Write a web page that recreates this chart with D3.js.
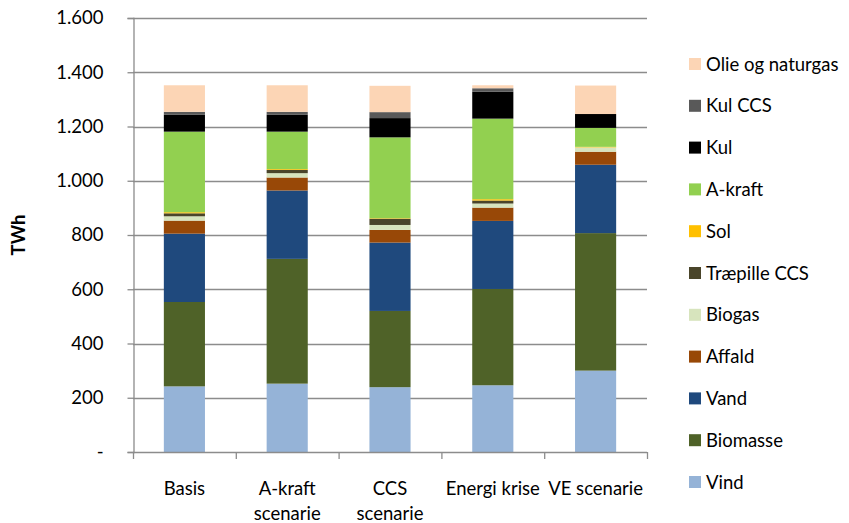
<!DOCTYPE html>
<html>
<head>
<meta charset="utf-8">
<script src="https://cdn.jsdelivr.net/npm/d3@7"></script>
<style>
  html, body { margin: 0; padding: 0; background: #fff; }
  svg { display: block; font-family: Lato, "Open Sans", sans-serif; }
</style>
</head>
<body>
<svg id="chart" width="849" height="523"></svg>
<script>
// Scenarios on the x axis
const scenarios = [["Basis"], ["A-kraft", "scenarie"], ["CCS", "scenarie"], ["Energi krise"], ["VE scenarie"]];

// Energy sources, stacked bottom to top
const sources = ["Vind", "Biomasse", "Vand", "Affald", "Biogas", "Træpille CCS", "Sol", "A-kraft", "Kul", "Kul CCS", "Olie og naturgas"];
const colors  = ["#95B3D7", "#4F6228", "#1F497D", "#984807", "#D7E4BD", "#4A452A", "#FFC000", "#92D050", "#000000", "#595959", "#FCD5B5"];

// TWh per source, one value per scenario
const vind       = [242, 252, 239, 246, 300];
const biomasse   = [311, 460, 281, 355, 507];
const vand       = [252, 252, 252, 251, 252];
const affald     = [48, 48, 47, 49, 48];
const biogas     = [16, 16, 18, 15, 16];
const traepille  = [11, 12, 23, 11, 0];
const sol        = [4, 3, 2, 5, 2];
const akraft     = [297, 138, 298, 297, 70];
const kul        = [62, 62, 71, 99, 51];
const kulCCS     = [11, 11, 22, 13, 0];
const olie       = [98, 98, 97, 11, 105];

const yTicks = [0, 200, 400, 600, 800, 1000, 1200, 1400, 1600];

const seriesValues = [vind, biomasse, vand, affald, biogas, traepille, sol, akraft, kul, kulCCS, olie];
const rows = scenarios.map((s, i) => {
  const r = { key: i };
  sources.forEach((src, j) => { r[src] = seriesValues[j][i]; });
  return r;
});

const FS = 18.5;
const svg = d3.select("#chart");
const m = { left: 133, right: 202, top: 18, bottom: 71 };
const W = 849, H = 523;

const x = d3.scaleBand().domain(d3.range(scenarios.length)).range([m.left, W - m.right]).paddingInner(0.6).paddingOuter(0.3);
const y = d3.scaleLinear().domain([0, 1600]).range([H - m.bottom, m.top]);

const fmt = v => v === 0 ? "-" : d3.format(",")(v).replace(/,/g, ".");

// Horizontal gridlines
svg.append("g").selectAll("line").data(yTicks.filter(t => t > 0)).join("line")
  .attr("x1", m.left).attr("x2", W - m.right)
  .attr("y1", d => Math.round(y(d)) + 0.5).attr("y2", d => Math.round(y(d)) + 0.5)
  .attr("stroke", "#8c8c8c").attr("stroke-width", 1.3);

// Stacked bars
const stack = d3.stack().keys(sources)(rows);
svg.append("g").selectAll("g").data(stack).join("g")
  .attr("fill", (d, i) => colors[i])
  .selectAll("rect").data(d => d).join("rect")
  .attr("x", d => x(d.data.key))
  .attr("width", x.bandwidth())
  .attr("y", d => y(d[1]))
  .attr("height", d => Math.max(0, y(d[0]) - y(d[1])));

// Y axis
const yAxis = d3.axisLeft(y).tickValues(yTicks).tickSize(6).tickPadding(24).tickFormat(fmt);
const gy = svg.append("g").attr("transform", `translate(${m.left + 0.5},0)`).call(yAxis);
gy.select(".domain").attr("stroke", "#8c8c8c").attr("stroke-width", 1.3);
gy.selectAll(".tick line").attr("stroke", "#8c8c8c").attr("stroke-width", 1.3);
gy.selectAll(".tick text").attr("font-size", FS).attr("fill", "#000").style("font-family", "Lato, sans-serif");

// X axis with tick marks between categories
const xEdges = d3.range(scenarios.length + 1).map(i => m.left + i * (W - m.right - m.left) / scenarios.length);
const gx = svg.append("g");
gx.append("line").attr("x1", m.left).attr("x2", W - m.right)
  .attr("y1", y(0) + 0.5).attr("y2", y(0) + 0.5)
  .attr("stroke", "#8c8c8c").attr("stroke-width", 1.3);
gx.selectAll("line.tk").data(xEdges).join("line").attr("class", "tk")
  .attr("x1", d => d + 0.5).attr("x2", d => d + 0.5)
  .attr("y1", y(0)).attr("y2", y(0) + 7)
  .attr("stroke", "#8c8c8c").attr("stroke-width", 1.3);
const lbl = gx.selectAll("text").data(scenarios).join("text")
  .attr("text-anchor", "middle").attr("font-size", FS).attr("fill", "#000")
  .attr("transform", (d, i) => `translate(${x(i) + x.bandwidth() / 2},${y(0) + 43})`);
lbl.selectAll("tspan").data(d => d).join("tspan")
  .attr("x", 0).attr("dy", (d, i) => i === 0 ? 0 : 25).text(d => d);

// Y axis title
svg.append("text").attr("transform", `translate(25,${(y(0) + y(1600)) / 2}) rotate(-90)`)
  .attr("text-anchor", "middle").attr("font-size", FS).attr("font-weight", "bold").text("TWh");

// Legend, top entry is the top of the stack
const legendItems = sources.map((s, i) => ({ s, c: colors[i] })).reverse();
const lg = svg.append("g").selectAll("g").data(legendItems).join("g")
  .attr("transform", (d, i) => `translate(689,${64 + i * 41.8})`);
lg.append("rect").attr("x", 0).attr("y", -6).attr("width", 12).attr("height", 12).attr("fill", d => d.c);
lg.append("text").attr("x", 17).attr("y", 6.5).attr("font-size", FS).text(d => d.s);
</script>
</body>
</html>
